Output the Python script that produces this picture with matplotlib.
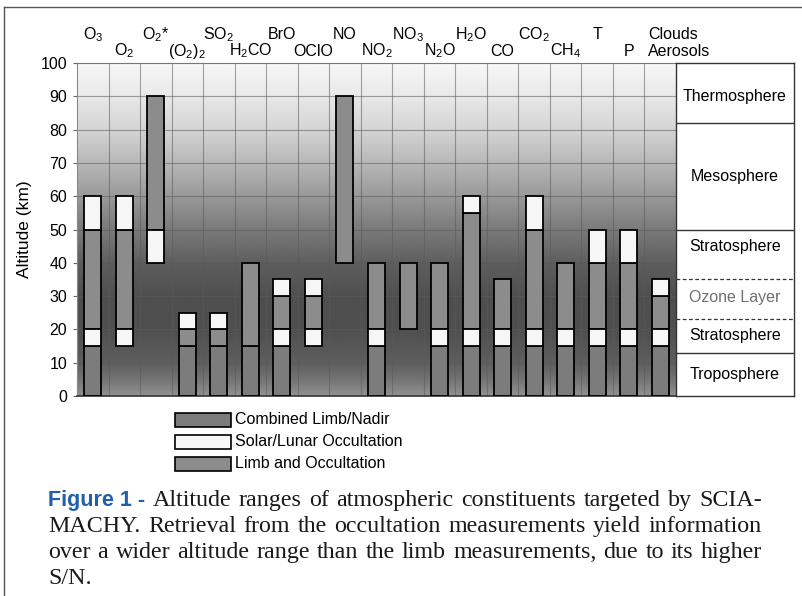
import numpy as np
import matplotlib
matplotlib.use("Agg")
import matplotlib.pyplot as plt
from matplotlib.patches import Rectangle
from matplotlib.lines import Line2D

# ---------------- data ----------------
labels = ['O$_3$', 'O$_2$', 'O$_2$*', '(O$_2$)$_2$', 'SO$_2$', 'H$_2$CO', 'BrO', 'OClO',
          'NO', 'NO$_2$', 'NO$_3$', 'N$_2$O', 'H$_2$O', 'CO', 'CO$_2$', 'CH$_4$', 'T', 'P',
          'Clouds\nAerosols']
# Combined Limb/Nadir: from ground to this altitude (0 = none)
combined_top = [15, 0, 0, 15, 15, 15, 15, 0, 0, 15, 0, 15, 15, 15, 15, 15, 15, 15, 15]
# Limb and Occultation ranges
limb_ranges = [(20, 50), (20, 50), (50, 90), (15, 20), (15, 20), (15, 40), (20, 30), (20, 30),
               (40, 90), (20, 40), (20, 40), (20, 40), (20, 55), (20, 35), (20, 50), (20, 40),
               (20, 40), (20, 40), (20, 30)]
# Solar/Lunar Occultation ranges (lower and upper)
occ_low = [(15, 20), (15, 20), None, None, None, None, (15, 20), (15, 20), None, (15, 20), None,
           (15, 20), (15, 20), (15, 20), (15, 20), (15, 20), (15, 20), (15, 20), (15, 20)]
occ_high = [(50, 60), (50, 60), (40, 50), (20, 25), (20, 25), None, (30, 35), (30, 35), None, None,
            None, None, (55, 60), None, (50, 60), None, (40, 50), (40, 50), (30, 35)]

yticks = list(range(0, 101, 10))
layer_names = ['Thermosphere', 'Mesosphere', 'Stratosphere', 'Ozone Layer', 'Stratosphere', 'Troposphere']
layer_text_alt = [90, 66, 45, 29.5, 18.2, 6.5]
layer_solid = [82, 50, 13]
layer_dashed = [35, 23]

legend_labels = ['Combined Limb/Nadir', 'Solar/Lunar Occultation', 'Limb and Occultation']

caption_bold = 'Figure 1 -'
caption_lines = [
    'Altitude ranges of atmospheric constituents targeted by SCIA-',
    'MACHY. Retrieval from the occultation measurements yield information',
    'over a wider altitude range than the limb measurements, due to its higher',
    'S/N.',
]

# ---------------- style ----------------
plt.rcParams['font.family'] = ['Liberation Sans', 'DejaVu Sans']
plt.rcParams['mathtext.fontset'] = 'custom'
plt.rcParams['mathtext.rm'] = 'Liberation Sans'
plt.rcParams['mathtext.it'] = 'Liberation Sans:italic'
plt.rcParams['mathtext.bf'] = 'Liberation Sans:bold'
plt.rcParams['mathtext.default'] = 'regular'

C_COMB = '#7c7c7c'
C_OCC = '#f6f6f6'
C_LIMB = '#8c8c8c'
FS = 11.5

W, H = 802, 596
fig = plt.figure(figsize=(W / 100, H / 100), dpi=100)
fig.patch.set_facecolor('white')

def fx(px):
    return px / W

def fy(py):
    return 1 - py / H

ax_l, ax_r, ax_t, ax_b = 77, 676, 63, 396
ax = fig.add_axes([fx(ax_l), fy(ax_b), fx(ax_r - ax_l), (ax_b - ax_t) / H])
n = len(labels)
ax.set_xlim(0, n)
ax.set_ylim(0, 100)

# gradient background
alt_stops = [0, 5, 10, 20, 30, 40, 50, 60, 70, 80, 90, 100]
gray_stops = [0.57, 0.45, 0.37, 0.31, 0.31, 0.37, 0.48, 0.60, 0.72, 0.83, 0.91, 0.97]
alts = np.linspace(0, 100, 400)
grad = np.interp(alts, alt_stops, gray_stops)[:, None]
ax.imshow(grad, extent=[0, n, 0, 100], origin='lower', aspect='auto', cmap='gray',
          vmin=0, vmax=1, zorder=0, interpolation='bilinear')

# grid
for yv in yticks[1:-1]:
    ax.axhline(yv, color='#5a5a5a', lw=0.8, alpha=0.55, zorder=1)
for xv in range(1, n):
    ax.axvline(xv, color='#5a5a5a', lw=0.8, alpha=0.55, zorder=1)

bw = 0.54
def seg(i, lo, hi, color):
    ax.bar(i + 0.5, hi - lo, bottom=lo, width=bw, color=color, edgecolor='black',
           linewidth=1.3, zorder=3)

for i in range(n):
    if combined_top[i]:
        seg(i, 0, combined_top[i], C_COMB)
    lo, hi = limb_ranges[i]
    seg(i, lo, hi, C_LIMB)
    if occ_low[i]:
        seg(i, occ_low[i][0], occ_low[i][1], C_OCC)
    if occ_high[i]:
        seg(i, occ_high[i][0], occ_high[i][1], C_OCC)

ax.set_xticks([])
ax.set_yticks(yticks)
ax.tick_params(axis='y', labelsize=FS, length=3, width=0.8, color='#666666', pad=4)
ax.spines['right'].set_visible(False)
ax.spines['left'].set_color('#888888')
ax.spines['top'].set_color('#777777')
ax.spines['bottom'].set_color('#333333')
ax.spines['bottom'].set_linewidth(1.2)
ax.set_ylabel('Altitude (km)', fontsize=12.5, labelpad=6)

# top labels
for i, lab in enumerate(labels):
    if i == n - 1:
        t1, t2 = lab.split('\n')
        ax.text(i + 0.12, 107.2, t1, ha='left', va='baseline', fontsize=FS, clip_on=False)
        ax.text(i + 0.12, 102.2, t2, ha='left', va='baseline', fontsize=FS, clip_on=False)
    else:
        yb = 107.2 if i % 2 == 0 else 102.2
        ax.text(i + 0.5, yb, lab, ha='center', va='baseline', fontsize=FS, clip_on=False)

# right panel
ax2 = fig.add_axes([fx(ax_r), fy(ax_b), fx(794 - ax_r), (ax_b - ax_t) / H])
ax2.set_xlim(0, 1)
ax2.set_ylim(0, 100)
ax2.set_xticks([])
ax2.set_yticks([])
for s in ax2.spines.values():
    s.set_color('#333333')
    s.set_linewidth(1.0)
for yv in layer_solid:
    ax2.axhline(yv, color='#333333', lw=1.0)
for yv in layer_dashed:
    ax2.axhline(yv, color='#333333', lw=0.9, ls=(0, (3, 2)))
for name, ya in zip(layer_names, layer_text_alt):
    col = '#707070' if name == 'Ozone Layer' else 'black'
    ax2.text(0.5, ya, name, ha='center', va='center', fontsize=FS, color=col)

# legend (drawn manually)
colors = [C_COMB, C_OCC, C_LIMB]
row_y = [420, 442, 464]
for lab, c, ry in zip(legend_labels, colors, row_y):
    fig.patches.append(Rectangle((fx(175), fy(ry + 7)), fx(56), 14 / H, transform=fig.transFigure,
                                 facecolor=c, edgecolor='black', linewidth=1.2, figure=fig))
    fig.text(fx(235), fy(ry), lab, ha='left', va='center', fontsize=FS)

# outer frame
fig.add_artist(Line2D([fx(4), 1], [fy(7), fy(7)], color='#555555', lw=1.0, transform=fig.transFigure))
fig.add_artist(Line2D([fx(4), fx(4)], [fy(7), 0], color='#555555', lw=1.0, transform=fig.transFigure))

# caption with justified lines
renderer = fig.canvas.get_renderer()
left_px, right_px = 48, 762
base_y = [506, 532, 558, 584]
serif = ['Liberation Serif', 'DejaVu Serif']
cap_fs = 17.3

def width_of(t):
    return t.get_window_extent(renderer).width

for li, line in enumerate(caption_lines):
    items = []
    if li == 0:
        t = fig.text(0, 0, caption_bold, fontsize=15.5, fontweight='bold', color='#1f5fae',
                     family=['Liberation Sans', 'DejaVu Sans'], va='baseline', ha='left')
        items.append(t)
    for w in line.split(' '):
        t = fig.text(0, 0, w, fontsize=cap_fs, family=serif, va='baseline', ha='left', color='#1a1a1a')
        items.append(t)
    widths = [width_of(t) for t in items]
    if li < len(caption_lines) - 1 and len(items) > 1:
        gap = (right_px - left_px - sum(widths)) / (len(items) - 1)
    else:
        gap = 4.5
    x = left_px
    for t, wd in zip(items, widths):
        t.set_position((fx(x), fy(base_y[li])))
        x += wd + gap

fig.savefig('out.png', dpi=100)
